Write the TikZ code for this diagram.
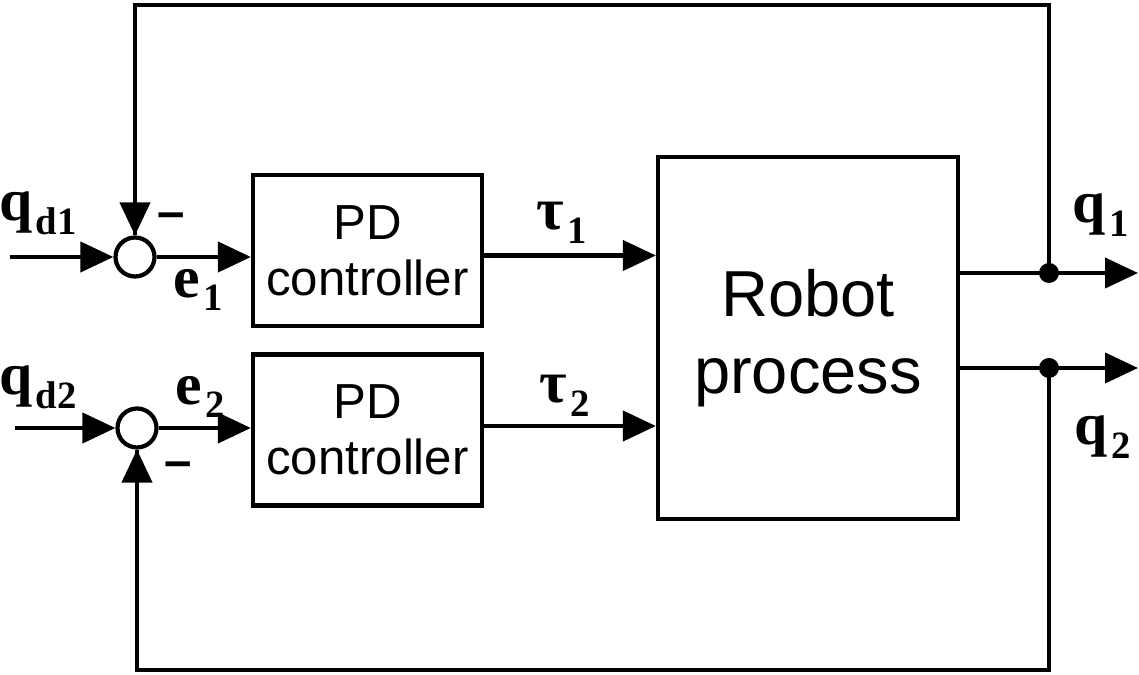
\documentclass[tikz,border=0pt]{standalone}
\usepackage{fontspec}
\setmainfont{Liberation Serif}
\setsansfont{Liberation Sans}
\usetikzlibrary{arrows.meta,positioning}

\newcommand{\sig}[2]{\textbf{#1\kern0.06em\raisebox{-0.5ex}{\fontsize{11}{11}\selectfont #2}}}

\begin{document}
\begin{tikzpicture}[
    block/.style={rectangle, draw, line width=1.2pt, minimum width=2.29cm, minimum height=1.51cm, align=center, font=\sffamily\fontsize{14}{16}\selectfont},
    sumnode/.style={circle, draw, line width=1.2pt, minimum size=0.39cm, inner sep=0pt},
    dot/.style={circle, fill, minimum size=0.2cm, inner sep=0pt},
    lbl/.style={font=\fontsize{17}{17}\selectfont, inner sep=0pt},
    minus/.style={font=\sffamily\bfseries\fontsize{14}{14}\selectfont, inner sep=0pt},
    arrow/.style={-{Triangle[length=0.33cm,width=0.3cm]}, line width=1.2pt},
    line/.style={line width=1.2pt}
]
    \useasboundingbox (0,0) rectangle (11.39,6.75);

    % Summing junctions
    \node[sumnode] (sum1) at (1.35,4.18) {};
    \node[sumnode] (sum2) at (1.37,2.47) {};

    % Controllers
    \node[block] (pd1) at (3.675,4.245) {PD\\controller};
    \node[block] (pd2) at (3.675,2.45) {PD\\controller};

    % Plant
    \node[block, minimum width=3.0cm, minimum height=3.62cm, font=\sffamily\fontsize{18.5}{22}\selectfont] (robot) at (8.08,3.37) {Robot\\process};

    % Inputs and outputs
    \coordinate (in1) at (0.10,4.18);
    \coordinate (in2) at (0.15,2.47);
    \coordinate (out1) at (11.38,4.02);
    \coordinate (out2) at (11.38,3.07);
    \node[dot] (tap1) at (10.49,4.02) {};
    \node[dot] (tap2) at (10.49,3.07) {};
    \coordinate (top) at (10.49,6.70);
    \coordinate (bot) at (10.49,0.05);

    % Labels
    \node[lbl] (qd1) at (0.38,4.62) {\sig{q}{d1}};
    \node[lbl] (qd2) at (0.38,2.88) {\sig{q}{d2}};
    \node[lbl] (e1) at (1.98,3.85) {\sig{e}{1}};
    \node[lbl] (e2) at (2.00,2.78) {\sig{e}{2}};
    \node[minus] (m1) at (1.71,4.54) {–};
    \node[minus] (m2) at (1.78,2.05) {–};
    \node[lbl] (t1) at (5.62,4.52) {\sig{τ}{1}};
    \node[lbl] (t2) at (5.65,2.79) {\sig{τ}{2}};
    \node[lbl] (q1) at (11.01,4.60) {\sig{q}{1}};
    \node[lbl] (q2) at (11.03,2.38) {\sig{q}{2}};

    % Arrows
    \draw[arrow] (in1) -- (sum1);
    \draw[arrow] (in2) -- (sum2);
    \draw[arrow] (sum1) -- (sum1 -| pd1.west);
    \draw[arrow] (sum2) -- (sum2 -| pd2.west);
    \draw[arrow] ([yshift=-0.5mm]pd1.east) -- ([yshift=-0.5mm]pd1.east -| robot.west);
    \draw[arrow] ([yshift=0.4mm]pd2.east) -- ([yshift=0.4mm]pd2.east -| robot.west);
    \draw[arrow] (robot.east |- out1) -- (out1);
    \draw[arrow] (robot.east |- out2) -- (out2);

    % Feedback
    \draw[line] (tap1.center) -- (top) -| (sum1.north);
    \draw[arrow] (top -| sum1) -- (sum1.north);
    \draw[line] (tap2.center) -- (bot) -| (sum2.south);
    \draw[arrow] (bot -| sum2) -- (sum2.south);
\end{tikzpicture}
\end{document}
